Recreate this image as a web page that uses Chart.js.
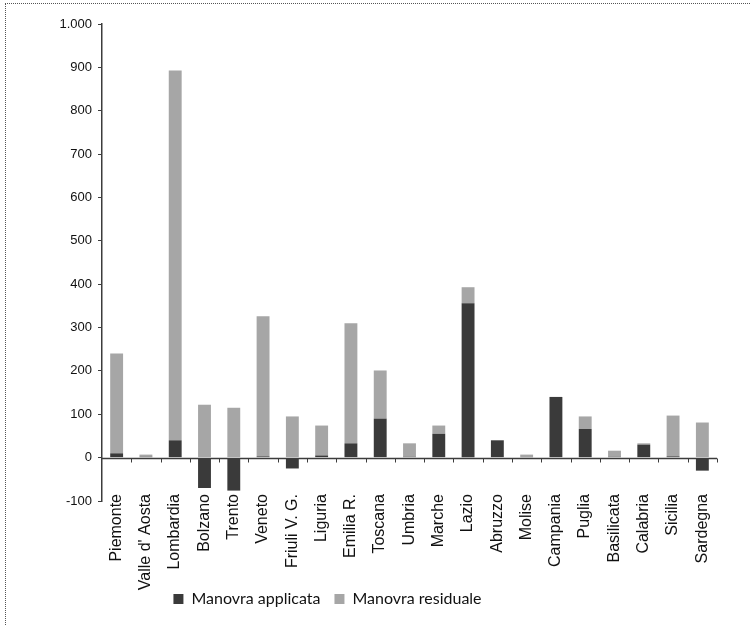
<!DOCTYPE html>
<html>
<head>
<meta charset="utf-8">
<script src="https://cdn.jsdelivr.net/npm/chart.js@4/dist/chart.umd.min.js"></script>
<style>
  html, body { margin: 0; padding: 0; background: #fff; }
  #frame { position: absolute; left: 0; top: 0; width: 750px; height: 625px; }
  #frame::before { content: ""; position: absolute; left: 5px; top: 3px; right: -2px; bottom: -2px;
    border-left: 1px dotted #555; border-top: 1px dotted #555; pointer-events: none; }
  canvas { position: absolute; left: 0; top: 0; }
</style>
</head>
<body>
<div id="frame"><canvas id="c" width="750" height="625"></canvas></div>
<script>
// Regions (x axis)
const categories = ['Piemonte', "Valle d' Aosta", 'Lombardia', 'Bolzano', 'Trento', 'Veneto',
  'Friuli V. G.', 'Liguria', 'Emilia R.', 'Toscana', 'Umbria', 'Marche', 'Lazio', 'Abruzzo',
  'Molise', 'Campania', 'Puglia', 'Basilicata', 'Calabria', 'Sicilia', 'Sardegna'];

// Stacked series
const manovraApplicata = [10, 2, 40, -70, -76, 3, -25, 5, 33, 90, 2, 55, 356, 40, 1, 140, 66, 2, 30, 3, -30];
const manovraResiduale = [230, 5, 853, 122, 115, 323, 95, 69, 277, 111, 31, 19, 37, 0, 6, 0, 29, 14, 3, 94, 81];

// Value axis ticks
const yTicks = [-100, 0, 100, 200, 300, 400, 500, 600, 700, 800, 900, 1000];

const AXIS = '#3c3c3c';

// Zero baseline with small category separator ticks hanging below it
const zeroAxis = {
  id: 'zeroAxis',
  afterDatasetsDraw(chart) {
    const { ctx, scales: { x, y } } = chart;
    const y0 = Math.round(y.getPixelForValue(0)) + 0.5;
    const step = x.getPixelForTick(1) - x.getPixelForTick(0);
    ctx.save();
    ctx.strokeStyle = AXIS;
    ctx.lineWidth = 1.5;
    ctx.beginPath();
    ctx.moveTo(x.left, y0);
    ctx.lineTo(x.right, y0);
    ctx.stroke();
    ctx.lineWidth = 1;
    for (let i = 0; i < categories.length; i++) {
      const px = Math.round(x.getPixelForTick(i) + step / 2) + 0.5;
      ctx.beginPath();
      ctx.moveTo(px, y0);
      ctx.lineTo(px, y0 + 4);
      ctx.stroke();
    }
    ctx.restore();
  }
};

// Shift the legend block to the left
const legendShift = {
  id: 'legendShift',
  afterLayout(chart) {
    chart.legend.left -= 31;
    chart.legend.right -= 31;
  }
};

new Chart(document.getElementById('c'), {
  type: 'bar',
  data: {
    labels: categories,
    datasets: [
      { label: 'Manovra applicata', data: manovraApplicata, backgroundColor: '#3a3a3a',
        categoryPercentage: 1, barPercentage: 0.44 },
      { label: 'Manovra residuale', data: manovraResiduale, backgroundColor: '#a6a6a6',
        categoryPercentage: 1, barPercentage: 0.44 }
    ]
  },
  options: {
    responsive: false,
    animation: false,
    layout: { padding: { top: 24, right: 33, left: 0, bottom: 8 } },
    plugins: {
      tooltip: { enabled: false },
      legend: {
        position: 'bottom',
        labels: {
          boxWidth: 10, boxHeight: 10, padding: 14,
          color: '#111',
          font: { family: 'Lato', size: 16 }
        }
      }
    },
    scales: {
      x: {
        stacked: true,
        grid: { display: false, drawTicks: false },
        border: { display: false },
        ticks: {
          autoSkip: false, maxRotation: 90, minRotation: 90, mirror: true, padding: 7,
          color: '#111', font: { family: 'Liberation Sans', size: 16, lineHeight: 0.01 }
        },
        afterFit(s) { s.height = 76; }
      },
      y: {
        stacked: true,
        min: -100, max: 1000,
        afterBuildTicks(s) { s.ticks = yTicks.map(v => ({ value: v })); },
        grid: { display: true, drawOnChartArea: false, drawTicks: true, tickLength: 4, color: AXIS },
        border: { display: true, color: AXIS, width: 1.5 },
        ticks: {
          padding: 6, color: '#111',
          font: { family: 'Liberation Sans', size: 13 },
          callback: v => v.toLocaleString('it-IT')
        },
        afterFit(s) { s.width = 102; }
      }
    }
  },
  plugins: [zeroAxis, legendShift]
});
</script>
</body>
</html>
